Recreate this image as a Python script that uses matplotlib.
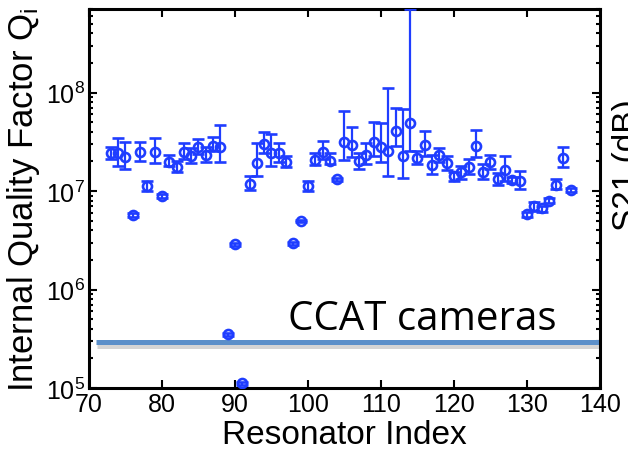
import numpy as np
import matplotlib
matplotlib.use("Agg")
import matplotlib.pyplot as plt
import matplotlib.patheffects as pe
from matplotlib.ticker import LogLocator, NullFormatter, FixedLocator

plt.rcParams['font.family'] = ['Liberation Sans', 'DejaVu Sans']
plt.rcParams['mathtext.fontset'] = 'custom'
plt.rcParams['mathtext.rm'] = 'Liberation Sans'
plt.rcParams['mathtext.it'] = 'Liberation Sans:italic'

# resonator index and internal Q (value, lower bound, upper bound)
index = list(range(73, 137))
q_i = [2.43e7, 2.43e7, 2.21e7, 5.7e6, 2.49e7, 1.12e7, 2.49e7, 8.9e6, 1.97e7, 1.75e7,
       2.49e7, 2.27e7, 2.80e7, 2.32e7, 2.86e7, 2.80e7, 3.5e5, 2.9e6, 1.12e5, 1.18e7,
       1.92e7, 3.0e7, 2.43e7, 2.43e7, 1.97e7, 2.96e6, 4.96e6, 1.12e7, 2.06e7, 2.49e7,
       2.02e7, 1.32e7, 3.14e7, 2.93e7, 2.02e7, 2.32e7, 3.14e7, 2.80e7, 2.55e7, 4.06e7,
       2.27e7, 4.9e7, 2.16e7, 2.93e7, 1.84e7, 2.32e7, 1.92e7, 1.42e7, 1.56e7, 1.75e7,
       2.86e7, 1.56e7, 1.97e7, 1.32e7, 1.63e7, 1.29e7, 1.26e7, 5.84e6, 7.0e6, 6.7e6,
       7.9e6, 1.15e7, 2.16e7, 1.02e7]
q_low = [2.11e7, 1.79e7, 1.67e7, 5.45e6, 2.02e7, 1.0e7, 1.92e7, 8.5e6, 1.79e7, 1.56e7,
         2.11e7, 1.92e7, 2.38e7, 1.97e7, 2.55e7, 1.97e7, 3.4e5, 2.8e6, 1.08e5, 1.02e7,
         1.42e7, 2.43e7, 1.79e7, 1.97e7, 1.75e7, 2.86e6, 4.8e6, 1.0e7, 1.84e7, 2.11e7,
         1.88e7, 1.28e7, 2.06e7, 2.21e7, 1.67e7, 1.88e7, 2.27e7, 1.97e7, 1.42e7, 2.86e7,
         1.36e7, 2.55e7, 1.88e7, 2.27e7, 1.49e7, 1.97e7, 1.63e7, 1.26e7, 1.32e7, 1.49e7,
         2.21e7, 1.32e7, 1.67e7, 1.15e7, 1.26e7, 1.21e7, 1.05e7, 5.45e6, 6.27e6, 6.12e6,
         7.55e6, 1.05e7, 1.75e7, 9.77e6]
q_high = [2.80e7, 3.45e7, 3.14e7, 6.0e6, 3.14e7, 1.26e7, 3.45e7, 9.3e6, 2.32e7, 2.02e7,
          3.07e7, 2.73e7, 3.37e7, 2.80e7, 3.53e7, 4.68e7, 3.6e5, 3.0e6, 1.16e5, 1.42e7,
          3.07e7, 3.97e7, 3.79e7, 3.07e7, 2.27e7, 3.06e6, 5.12e6, 1.26e7, 2.43e7, 3.22e7,
          2.43e7, 1.36e7, 6.5e7, 4.46e7, 2.43e7, 3.07e7, 5.0e7, 4.9e7, 1.11e8, 6.96e7,
          6.8e7, 7.05e8, 2.55e7, 4.06e7, 2.32e7, 2.73e7, 2.27e7, 1.56e7, 1.79e7, 2.11e7,
          4.16e7, 1.88e7, 2.32e7, 1.52e7, 2.27e7, 1.39e7, 1.6e7, 6.12e6, 7.7e6, 7.0e6,
          8.5e6, 1.32e7, 2.80e7, 1.07e7]

ccat_q = 2.93e5

q = np.array(q_i)
yerr = [q - np.array(q_low), np.array(q_high) - q]

fig = plt.figure(figsize=(6.28, 4.6), dpi=100)
ax = fig.add_axes([0.1417, 0.1543, 0.8137, 0.8237])

blue = '#1f3dff'
ax.errorbar(index, q, yerr=yerr, fmt='o', mfc='none', mec=blue, mew=1.9, ms=6.5,
            ecolor=blue, elinewidth=1.6, capsize=4, capthick=1.6, zorder=3)

# CCAT requirement line with a soft shadow
ax.plot([71, 140], [ccat_q, ccat_q], color='#5b8fc9', lw=3.6, solid_capstyle='butt',
        path_effects=[pe.SimpleLineShadow(offset=(0.5, -2.5), shadow_color='#aaaaaa', alpha=0.5),
                      pe.Normal()], zorder=2)
ax.text(97.3, 3.97e5, 'CCAT cameras', family=['Open Sans', 'DejaVu Sans'], fontsize=29,
        ha='left', va='baseline')

ax.set_yscale('log')
ax.set_xlim(70, 140)
ax.set_ylim(1e5, 7.05e8)
ax.set_xticks(range(70, 141, 10))
ax.yaxis.set_major_locator(FixedLocator([1e5, 1e6, 1e7, 1e8]))
ax.set_yticklabels(['$10^{5}$', '$10^{6}$', '$10^{7}$', '$10^{8}$'])
ax.yaxis.set_minor_locator(LogLocator(base=10, subs=np.arange(2, 10)))
ax.yaxis.set_minor_formatter(NullFormatter())

ax.tick_params(which='both', direction='in', top=True, right=True, width=1.5)
ax.tick_params(which='major', length=6, labelsize=18, pad=3)
ax.tick_params(which='minor', length=3)
for s in ax.spines.values():
    s.set_linewidth(2.2)

ax.set_xlabel('Resonator Index', fontsize=24, labelpad=2)
ax.set_ylabel('Internal Quality Factor Q$_\\mathrm{i}$', fontsize=25, labelpad=3)

# partial label from the neighbouring panel, cut at the edge
fig.text(0.975, 0.64, 'S21 (dB)', rotation=90, fontsize=24, ha='left', va='center')

fig.savefig('out.png', dpi=100)
